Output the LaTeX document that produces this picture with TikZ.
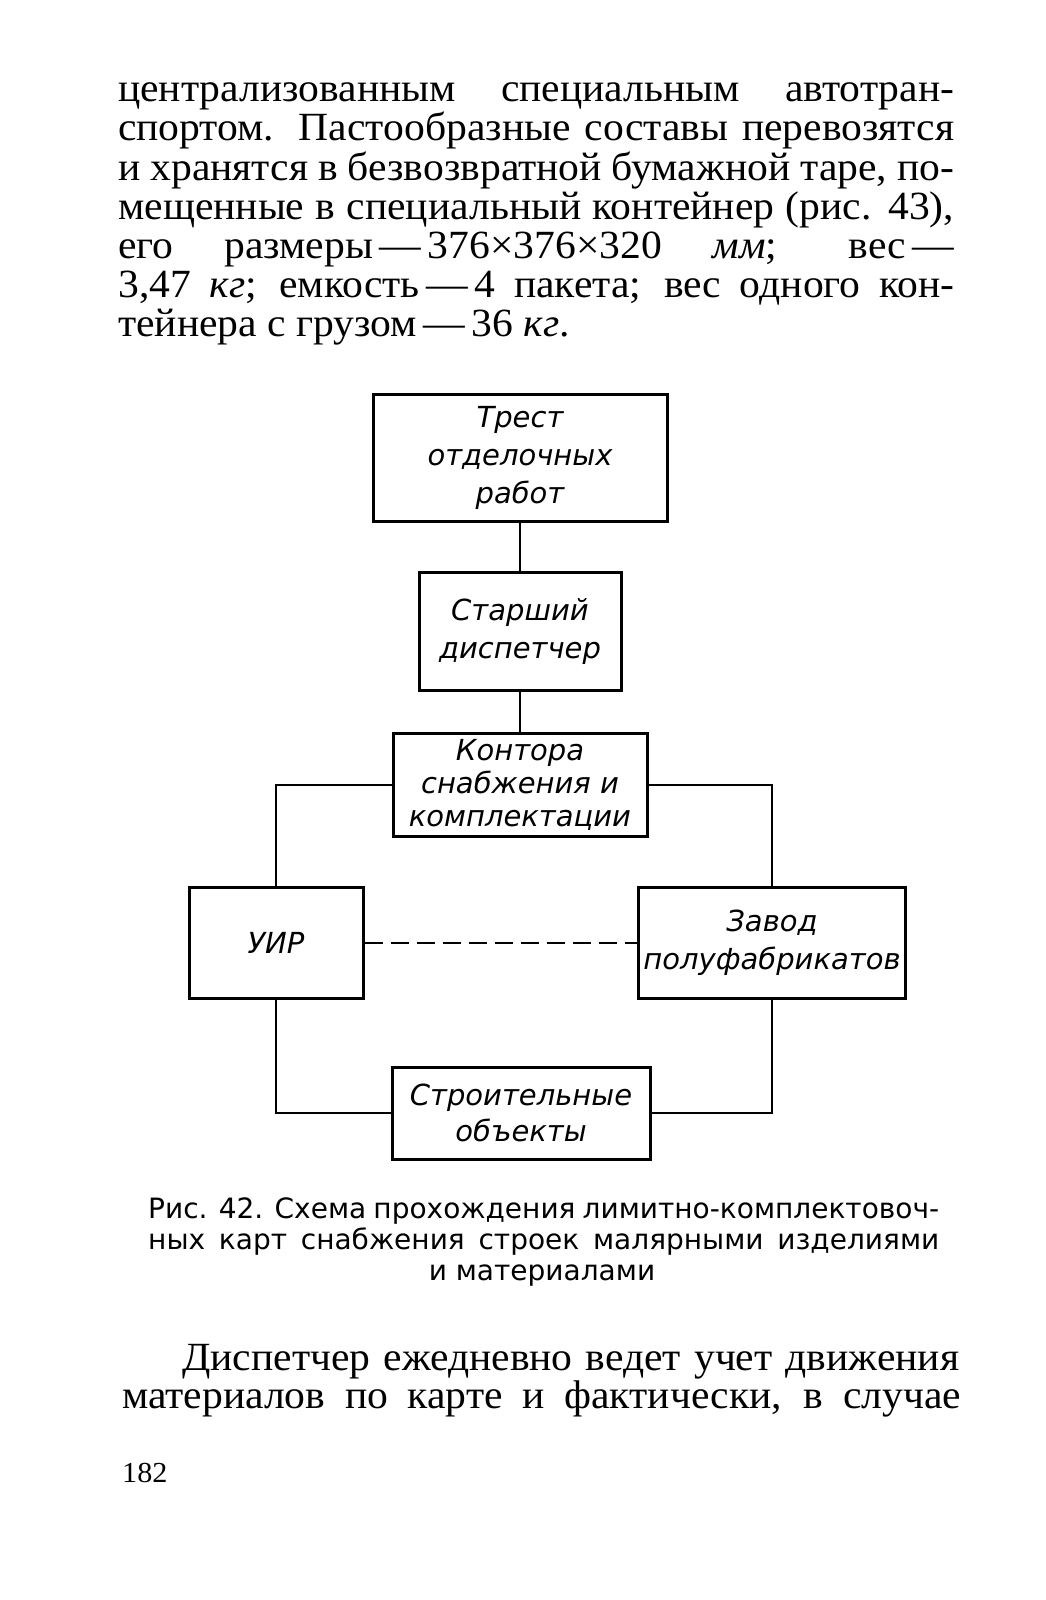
\documentclass[tikz,border=0pt]{standalone}
\usepackage{fontspec}
\setmainfont{Liberation Serif}[FakeStretch=1.04]
\newfontfamily\schemefont{DejaVu Sans}
\newfontfamily\capfont{DejaVu Sans}

\begin{document}
\begin{tikzpicture}[x=1pt,y=-1pt,
  block/.style={draw, line width=3pt, inner sep=0pt, align=center,
    font=\schemefont\itshape\fontsize{29}{38}\selectfont},
  link/.style={line width=2.8pt},
  textline/.style={anchor=base west, inner sep=0pt, font=\fontsize{40}{39}\selectfont},
  capline/.style={anchor=base west, inner sep=0pt, font=\capfont\fontsize{28}{31}\selectfont}]

\fill[white] (0,0) rectangle (1046,1600);
\useasboundingbox (0,0) rectangle (1046,1600);

% Текст над рисунком
\node[textline] (t1) at (118,102) {\makebox[836pt][s]{централизованным специальным автотран-}};
\node[textline] (t2) at (118,141) {\makebox[836pt][s]{спортом. Пастообразные составы перевозятся}};
\node[textline] (t3) at (118,180) {\makebox[836pt][s]{и хранятся в безвозвратной бумажной таре, по-}};
\node[textline] (t4) at (118,219) {\makebox[836pt][s]{мещенные в специальный контейнер (рис. 43),}};
\node[textline] (t5) at (118,258) {\makebox[836pt][s]{его размеры\,—\,376\texttimes376\texttimes320 \textit{мм}; вес\,—}};
\node[textline] (t6) at (118,297) {\makebox[836pt][s]{3,47 \textit{кг}; емкость\,—\,4 пакета; вес одного кон-}};
\node[textline] (t7) at (118,336) {тейнера с грузом\,—\,36 \textit{кг}.};

% Схема
\node[block, minimum width=294pt, minimum height=127pt] (trest) at (520,458) {Трест\\отделочных\\работ};
\node[block, minimum width=202pt, minimum height=118pt] (starshiy) at (520,631) {Старший\\диспетчер};
\node[block, minimum width=254pt, minimum height=103pt,
  font=\schemefont\itshape\fontsize{29}{33}\selectfont] (kontora) at (520,785) {Контора\\снабжения и\\комплектации};
\node[block, minimum width=174pt, minimum height=111pt] (uir) at (276,943) {УИР};
\node[block, minimum width=267pt, minimum height=111pt] (zavod) at (772,943) {Завод\\полуфабрикатов};
\node[block, minimum width=258pt, minimum height=92pt,
  font=\schemefont\itshape\fontsize{29}{36}\selectfont] (obekty) at (521,1113) {Строительные\\объекты};

% Связи
\draw[link] (trest) -- (starshiy);
\draw[link] (starshiy) -- (kontora);
\draw[link] (kontora) -| (uir);
\draw[link] (kontora) -| (zavod);
\draw[link] (uir) |- (obekty);
\draw[link] (zavod) |- (obekty);
\draw[link, line width=2.2pt, dash pattern=on 18pt off 8pt] (uir) -- (zavod);

% Подпись
\node[capline] (c1) at (148,1218) {\makebox[791pt][s]{Рис. 42. Схема прохождения лимитно-комплектовоч-}};
\node[capline] (c2) at (148,1249) {\makebox[791pt][s]{ных карт снабжения строек малярными изделиями}};
\node[capline, anchor=base] (c3) at (542,1280) {и материалами};

% Текст под рисунком
\node[textline] (p1) at (182,1370) {\makebox[777pt][s]{Диспетчер ежедневно ведет учет движения}};
\node[textline] (p2) at (122,1408) {\makebox[839pt][s]{материалов по карте и фактически, в случае}};
\node[textline, font=\fontsize{29}{29}\selectfont] (page) at (122,1482) {182};

\end{tikzpicture}
\end{document}
